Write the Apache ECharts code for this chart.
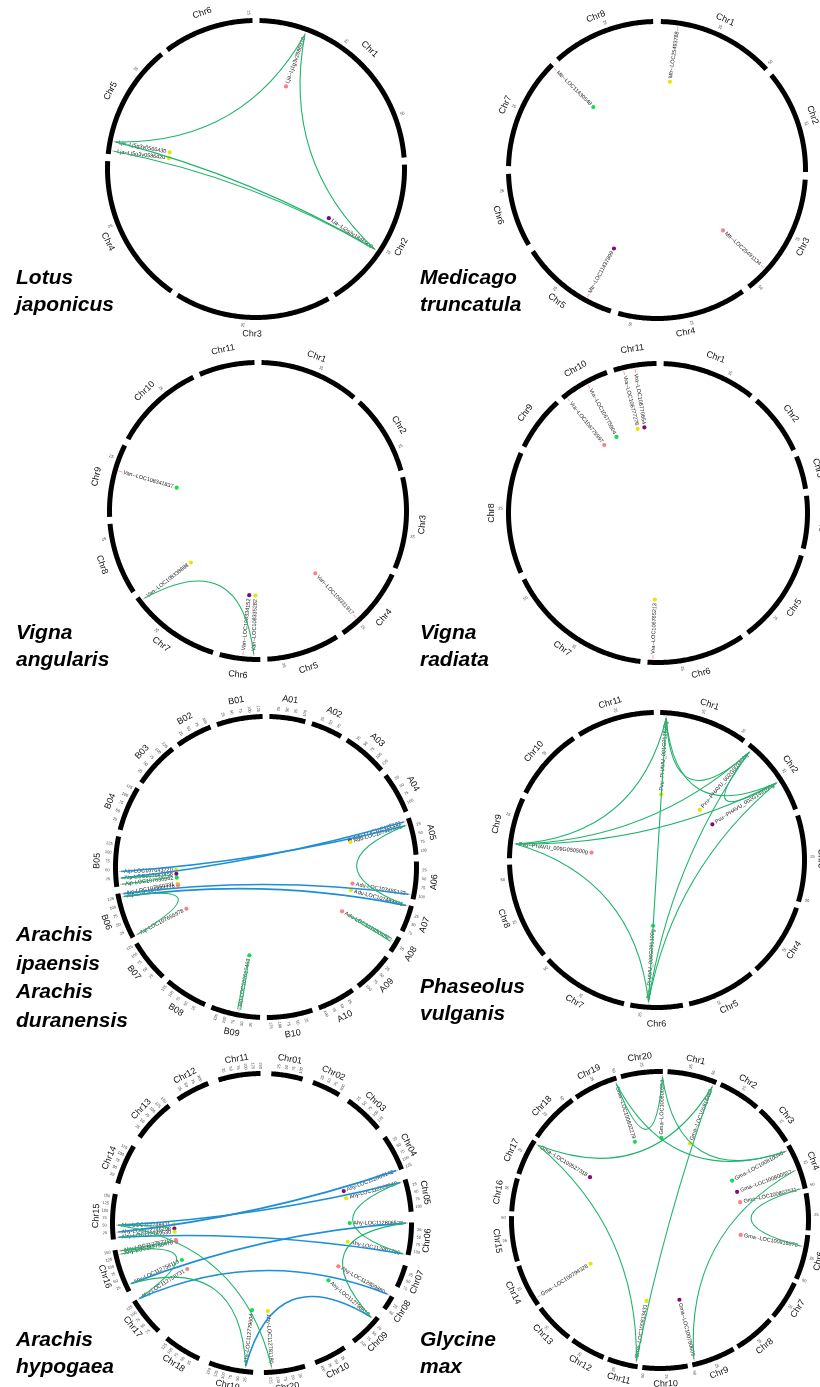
<!DOCTYPE html>
<html><head><meta charset="utf-8">
<script src="https://cdn.jsdelivr.net/npm/echarts@6/dist/echarts.min.js"></script>
<style>html,body{margin:0;padding:0;background:#fff}#c{width:820px;height:1387px}</style>
</head><body><div id="c"></div>
<script>
// ================= DATA =================
// gene entries: [label, chromosome index, position (Mb), colour group 1=pink 2=yellow 3=green 4=purple]
// link entries: [gene a, gene b, type 1=green (intra) 2=blue (inter)]
const titles = ['Lotus\njaponicus','Medicago\ntruncatula','Vigna\nangularis','Vigna\nradiata',
  'Arachis\nipaensis\nArachis\nduranensis','Phaseolus\nvulganis','Arachis\nhypogaea','Glycine\nmax'];

const lotusChr = ['Chr1','Chr2','Chr3','Chr4','Chr5','Chr6'];
const lotusLen = [62,44,45,43,33,26];
const lotusGenes = [
  ['Lja--Lj1g3v2986930',0,13.7,1],
  ['Lja--Lj2g3v1846900',1,26.3,4],
  ['Lja--Lj5g3v0566430',4,3.8,2],
  ['Lja--Lj5g3v0586420',4,1.0,2]];
const lotusLinks = [[0,2,1],[0,1,1],[1,2,1],[1,3,1]];

const mtrChr = ['Chr1','Chr2','Chr3','Chr4','Chr5','Chr6','Chr7','Chr8'];
const mtrLen = [51,45,53.5,56,43,32,48.5,45];
const mtrGenes = [
  ['Mtr--LOC25493788',0,7.6,2],
  ['Mtr--LOC11430548',6,48.0,3],
  ['Mtr--LOC25491134',2,43.1,1],
  ['Mtr--LOC11437899',4,11.8,4]];
const mtrLinks = [];

const vanChr = ['Chr1','Chr2','Chr3','Chr4','Chr5','Chr6','Chr7','Chr8','Chr9','Chr10','Chr11'];
const vanLen = [43,34.5,39.5,33,31.5,17.5,40.5,31,31.5,39,24];
const vanGenes = [
  ['Van--LOC108341837',8,20.2,3],
  ['Van--LOC108338888',6,38.5,2],
  ['Van--LOC108334152',5,7.6,4],
  ['Van--LOC108335282',5,2.9,2],
  ['Van--LOC108331917',3,24.4,1]];
const vanLinks = [[1,3,1]];

const vraChr = ['Chr1','Chr2','Chr3','Chr4','Chr5','Chr6','Chr7','Chr8','Chr9','Chr10','Chr11'];
const vraLen = [36,23.7,12.7,20.2,36.3,37.8,56.4,46.8,21.1,19.5,16.5];
const vraGenes = [
  ['Vra--LOC106770654',10,8.1,4],
  ['Vra--LOC106777276',10,3.6,2],
  ['Vra--LOC106775904',9,10.9,3],
  ['Vra--LOC106775997',9,1.3,1],
  ['Vra--LOC106765213',5,35.8,2]];
const vraLinks = [];

const abChr = ['A01','A02','A03','A04','A05','A06','A07','A08','A09','A10',
  'B10','B09','B08','B07','B06','B05','B04','B03','B02','B01'];
const abLen = [107,94,135,123,110,112,79,49,120,113,136,147,129,126,137,149,133,136,109,137];
const abGenes = [
  ['Aip-LOC107643720',15,45,2],
  ['Aip-LOC107641458',15,25,4],
  ['Aip-LOC107630962',15,6,3],
  ['Aip-LOC107650331',14,134,2],
  ['Aip-LOC107652276',14,125,1],
  ['Aip-LOC107655978',14,2,1],
  ['Adu-LOC107487101',4,6.4,4],
  ['Adu-LOC107487675',4,18.8,2],
  ['Adu-LOC107485123',5,100,1],
  ['Adu-LOC107489835',6,3,2],
  ['Adu-LOC107480486',7,18.5,1],
  ['Aip-LOC107617463',11,65,3]];
const abLinks = [[1,6,2],[0,7,2],[3,8,2],[4,9,2],[7,9,1],[4,5,1],[2,1,1],[10,10,1],[11,11,1]];

const pvuChr = ['Chr1','Chr2','Chr3','Chr4','Chr5','Chr6','Chr7','Chr8','Chr9','Chr10','Chr11'];
const pvuLen = [53.3,47.9,51.9,44.2,41.4,31.4,52.8,58.4,36.5,43.7,46.8];
const pvuGenes = [
  ['Pvu--PHAVU_001G012600g',0,3.75,2],
  ['Pvu--PHAVU_002G003400g',1,2.9,2],
  ['Pvu--PHAVU_002G149100g',1,28.4,4],
  ['Pvu--PHAVU_009G050500g',8,8.9,1],
  ['Pvu--PHAVU_006G095100g',5,20.7,3]];
const pvuLinks = [[0,1,1],[0,2,1],[0,3,1],[0,4,1],[1,2,1],[1,3,1],[1,4,1],[2,3,1],[2,4,1],[3,4,1]];

const ahyChr = ['Chr01','Chr02','Chr03','Chr04','Chr05','Chr06','Chr07','Chr08','Chr09','Chr10',
  'Chr20','Chr19','Chr18','Chr17','Chr16','Chr15','Chr14','Chr13','Chr12','Chr11'];
const ahyLen = [112.4,102.9,143.8,128.8,115.9,115.4,81.1,51.9,120.5,117.1,
  147,159,136,137.7,154,161.2,143,153,121.5,150.5];
const ahyGenes = [
  ['Ahy-LOC112748411',15,50,2],
  ['Ahy-LOC112746298',15,25,4],
  ['Ahy-LOC112749530',15,6,2],
  ['Ahy-LOC112757215',14,148,1],
  ['Ahy-LOC112758470',14,136,1],
  ['Ahy-LOC112758113',14,22,3],
  ['Ahy-LOC112758731',13,135,1],
  ['Ahy-LOC112809142',3,126,4],
  ['Ahy-LOC112809518',4,5,2],
  ['Ahy-LOC112806528',5,2,3],
  ['Ahy-LOC112807756',5,115,2],
  ['Ahy-LOC112809880',7,1,1],
  ['Ahy-LOC112798618',8,14.6,3],
  ['Ahy-LOC112779604',11,28.6,3],
  ['Ahy-LOC112781180',10,118.8,2]];
const ahyLinks = [[1,7,2],[0,8,2],[2,10,2],[5,9,2],[6,11,2],[13,12,2],
  [8,10,1],[0,14,1],[3,6,1],[9,12,1],[5,13,1],[0,2,1],[3,4,1]];

const gmaChr = ['Chr1','Chr2','Chr3','Chr4','Chr5','Chr6','Chr7','Chr8','Chr9','Chr10',
  'Chr11','Chr12','Chr13','Chr14','Chr15','Chr16','Chr17','Chr18','Chr19','Chr20'];
const gmaLen = [56.8,48.6,45.8,52.4,42.2,51.4,44.6,47.8,50.2,51.6,34.8,40.1,45.9,49.0,51.8,37.9,41.6,58.0,50.7,47.9];
const gmaGenes = [
  ['Gma--LOC100802279',18,48.5,3],
  ['Gma--LOC100800394',19,47.6,3],
  ['Gma--LOC100816452',0,54.2,2],
  ['Gma--LOC100810040',3,4.3,3],
  ['Gma--LOC100800557',3,29.3,4],
  ['Gma--LOC100802531',3,51.5,1],
  ['Gma--LOC100816870',5,13.7,1],
  ['Gma--LOC100527318',16,39.4,4],
  ['Gma--LOC100794328',13,7.3,2],
  ['Gma--LOC100813431',10,2.5,2],
  ['Gma--LOC100780609',8,46.9,4]];
const gmaLinks = [[0,1,1],[1,3,1],[0,3,1],[2,7,1],[2,9,1],[7,9,1],[4,10,1],[5,6,1]];

const tickStep = 25;

// ================= LAYOUT / STYLE =================
const panels = [
  {chrs:lotusChr,lens:lotusLen,genes:lotusGenes,links:lotusLinks,gap:2,  cx:256,cy:169, R:151,rot:0,  lab:14, tx:16, ty:265, lh:27},
  {chrs:mtrChr,lens:mtrLen,genes:mtrGenes,links:mtrLinks,gap:3.3,       cx:657,cy:170, R:151,rot:0,  lab:14, tx:420,ty:265, lh:27},
  {chrs:vanChr,lens:vanLen,genes:vanGenes,links:vanLinks,gap:3,         cx:258,cy:511, R:151,rot:0,  lab:14, tx:16, ty:620, lh:27},
  {chrs:vraChr,lens:vraLen,genes:vraGenes,links:vraLinks,gap:2.7,       cx:658,cy:513, R:152,rot:0.8,lab:14, tx:420,ty:620, lh:27},
  {chrs:abChr,lens:abLen,genes:abGenes,links:abLinks,gap:20,            cx:266,cy:867, R:153,rot:0,  lab:16, tx:16, ty:921, lh:28.5},
  {chrs:pvuChr,lens:pvuLen,genes:pvuGenes,links:pvuLinks,gap:3.8,       cx:657,cy:860, R:150,rot:0,  lab:14, tx:420,ty:974, lh:27},
  {chrs:ahyChr,lens:ahyLen,genes:ahyGenes,links:ahyLinks,gap:38,        cx:262,cy:1223,R:152,rot:1.5,lab:14, tx:16, ty:1327,lh:27},
  {chrs:gmaChr,lens:gmaLen,genes:gmaGenes,links:gmaLinks,gap:5.3,       cx:660,cy:1220,R:151,rot:2,  lab:13, tx:420,ty:1327,lh:27}
];
const DOT = {1:'#ff7d86', 2:'#e4e800', 3:'#16dc52', 4:'#84067e'};
const LINK = {1:{c:'#1eb46c',w:1.1}, 2:{c:'#1e8fd6',w:1.6}};
const FONT = '"Liberation Sans", Arial, sans-serif';
const GENE_FS = 5.5;
const mctx = document.createElement('canvas').getContext('2d');
mctx.font = GENE_FS + 'px ' + FONT;
const textW = s => mctx.measureText(s).width;

function thetaOf(pt, cx, cy){ let t = Math.atan2(pt[0]-cx, -(pt[1]-cy))*180/Math.PI; if (t<0) t+=360; return t; }
function radialRot(th){ // text along the radius, readable
  return th < 180 ? -(th-90)*Math.PI/180 : -(th-270)*Math.PI/180;
}
function tangRot(th){
  let d = (th>90 && th<270) ? th-180 : (th>=270 ? th-360 : th);
  return -d*Math.PI/180;
}

const polar=[], angleAxis=[], radiusAxis=[], series=[], title=[];
const hide = {show:false};
panels.forEach((p,i)=>{
  const n = p.lens.length;
  const starts=[]; let acc = p.gap/2;
  for (let k=0;k<n;k++){ starts.push(acc); acc += p.lens[k] + p.gap; }
  const total = acc - p.gap/2;
  polar.push({center:[p.cx,p.cy], radius:p.R});
  angleAxis.push({polarIndex:i, type:'value', min:0, max:total, startAngle:90-p.rot, clockwise:true,
    show:false, axisLine:hide, axisTick:hide, axisLabel:hide, splitLine:hide});
  radiusAxis.push({polarIndex:i, type:'value', min:0, max:p.R,
    show:false, axisLine:hide, axisTick:hide, axisLabel:hide, splitLine:hide});
  title.push({text:titles[i], left:p.tx, top:p.ty, padding:0,
    textStyle:{fontSize:21, fontWeight:'bold', fontStyle:'italic', fontFamily:FONT, color:'#000', lineHeight:p.lh}});

  // chromosomes
  series.push({type:'custom', coordinateSystem:'polar', polarIndex:i, silent:true, animation:false,
    data: p.lens.map((L,k)=>[starts[k], starts[k]+L, k]),
    renderItem:(params, api)=>{
      const s=api.value(0), e=api.value(1), k=api.value(2);
      const cx=params.coordSys.cx, cy=params.coordSys.cy;
      const m = Math.max(2, Math.ceil((e-s)/total*720));
      const pts=[];
      for (let j=0;j<=m;j++) pts.push(api.coord([p.R-2.5, s+(e-s)*j/m]));
      const ch=[{type:'polyline', shape:{points:pts}, style:{stroke:'#000', lineWidth:5, fill:null, lineCap:'butt', lineJoin:'round'}}];
      const lp = api.coord([p.R+p.lab, (s+e)/2]);
      ch.push({type:'text', x:lp[0], y:lp[1], rotation:tangRot(thetaOf(lp,cx,cy)),
        style:{text:p.chrs[k], fill:'#111', font:'9px '+FONT, align:'center', verticalAlign:'middle'}});
      for (let t=tickStep; t<e-s; t+=tickStep){
        const tp = api.coord([p.R+5.5, s+t]);
        ch.push({type:'text', x:tp[0], y:tp[1], rotation:radialRot(thetaOf(tp,cx,cy)),
          style:{text:String(t), fill:'#444', font:'4px '+FONT, align:'center', verticalAlign:'middle'}});
      }
      return {type:'group', children:ch};
    }});

  // genes
  const geneU = p.genes.map(g=>starts[g[1]]+g[2]);
  series.push({type:'custom', coordinateSystem:'polar', polarIndex:i, silent:true, animation:false,
    data: p.genes.map((g,k)=>[geneU[k], k]),
    renderItem:(params, api)=>{
      const u=api.value(0), k=api.value(1), g=p.genes[k];
      const cx=params.coordSys.cx, cy=params.coordSys.cy;
      const a=api.coord([p.R-6,u]), b=api.coord([p.R-10,u]), lp=api.coord([p.R-11,u]);
      const th=thetaOf(lp,cx,cy);
      const dp=api.coord([p.R-11-textW(g[0])-3.5, u]);
      return {type:'group', children:[
        {type:'line', shape:{x1:a[0],y1:a[1],x2:b[0],y2:b[1]}, style:{stroke:'#f6a89e', lineWidth:1}},
        {type:'text', x:lp[0], y:lp[1], rotation:radialRot(th),
          style:{text:g[0], fill:'#222', font:GENE_FS+'px '+FONT, align: th<180?'right':'left', verticalAlign:'middle'}},
        {type:'circle', shape:{cx:dp[0], cy:dp[1], r:2.1}, style:{fill:DOT[g[3]]}}
      ]};
    }});

  // links
  const d = 0.6/360*total;
  series.push({type:'custom', coordinateSystem:'polar', polarIndex:i, silent:true, animation:false,
    data: p.links.map(l=>{ let u1=geneU[l[0]], u2=geneU[l[1]]; if(l[0]===l[1]){u1-=d;u2+=d;} return [u1,u2,l[2]]; }),
    renderItem:(params, api)=>{
      const cx=params.coordSys.cx, cy=params.coordSys.cy;
      const a=api.coord([p.R-8, api.value(0)]), b=api.coord([p.R-8, api.value(1)]);
      const k=0.3, mx=(a[0]+b[0])/2, my=(a[1]+b[1])/2;
      const st=LINK[api.value(2)];
      return {type:'bezierCurve', shape:{x1:a[0],y1:a[1],x2:b[0],y2:b[1],cpx1:cx+k*(mx-cx),cpy1:cy+k*(my-cy)},
        style:{stroke:st.c, lineWidth:st.w, fill:null}};
    }});
});

const chart = echarts.init(document.getElementById('c'), null, {renderer:'canvas'});
chart.setOption({animation:false, backgroundColor:'#fff', title, polar, angleAxis, radiusAxis, series});
</script></body></html>
